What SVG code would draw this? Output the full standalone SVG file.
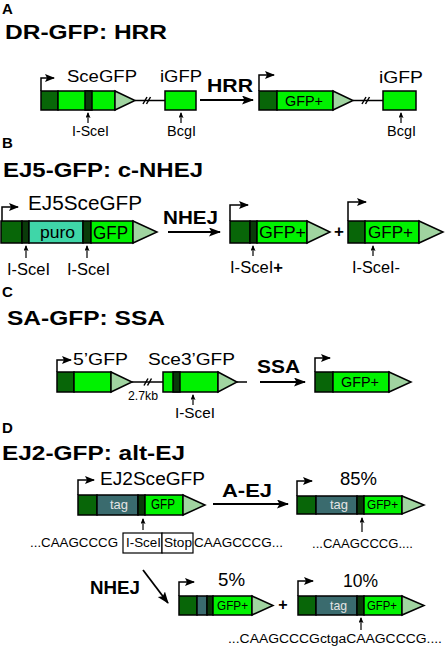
<svg xmlns="http://www.w3.org/2000/svg" width="445" height="649" viewBox="0 0 445 649">
<style>
text{font-family:"Liberation Sans",Arial,sans-serif;fill:#000}
.b{font-weight:bold}
.dk{fill:#086608;stroke:#000;stroke-width:1.5}
.bd{fill:#0a3a0a;stroke:#000;stroke-width:1.5}
.gr{fill:#00f200;stroke:#000;stroke-width:1.5}
.tr{fill:#a0d4a0;stroke:#000;stroke-width:1.5}
.pu{fill:#3fd6a8;stroke:#000;stroke-width:1.5}
.tg{fill:#3a6b6e;stroke:#000;stroke-width:1.5}
.ln{fill:none;stroke:#000;stroke-width:1.5}
.bx{fill:#fff;stroke:#000;stroke-width:1.2}
.pr{fill:none;stroke:#000;stroke-width:1.5;marker-end:url(#pa)}
.sm{fill:none;stroke:#000;stroke-width:1.2;marker-end:url(#sa)}
.big{fill:none;stroke:#000;stroke-width:1.8;marker-end:url(#ba)}
.tt{fill:#e4e4e4}
</style>
<defs>
<marker id="pa" markerUnits="userSpaceOnUse" markerWidth="10" markerHeight="10" refX="9" refY="4" orient="auto"><path d="M0,0 L10,4 L0,8 L2,4 z" fill="#000"/></marker>
<marker id="sa" markerUnits="userSpaceOnUse" markerWidth="6" markerHeight="6" refX="5" refY="2.5" orient="auto"><path d="M0,0 L6,2.5 L0,5 L1.2,2.5 z" fill="#000"/></marker>
<marker id="ba" markerUnits="userSpaceOnUse" markerWidth="12" markerHeight="10" refX="11" refY="4.5" orient="auto"><path d="M0,0 L12,4.5 L0,9 L2.5,4.5 z" fill="#000"/></marker>
</defs>

<!-- Panel labels and titles -->
<g id="titles">
<text class="b" x="2" y="14" font-size="15">A</text>
<text class="b" x="5" y="39" font-size="20" textLength="162" lengthAdjust="spacingAndGlyphs">DR-GFP: HRR</text>
<text class="b" x="2" y="148" font-size="15">B</text>
<text class="b" x="3" y="177" font-size="20" textLength="200" lengthAdjust="spacingAndGlyphs">EJ5-GFP: c-NHEJ</text>
<text class="b" x="2" y="297" font-size="15">C</text>
<text class="b" x="7" y="325" font-size="20" textLength="158" lengthAdjust="spacingAndGlyphs">SA-GFP: SSA</text>
<text class="b" x="2" y="433" font-size="15">D</text>
<text class="b" x="2" y="460" font-size="20" textLength="183" lengthAdjust="spacingAndGlyphs">EJ2-GFP: alt-EJ</text>
</g>

<!-- Panel A -->
<g id="dr-gfp">
<rect class="dk" x="41" y="91" width="17" height="19"/>
<rect class="gr" x="58" y="91" width="57" height="19"/>
<rect class="bd" x="85" y="91" width="7" height="19"/>
<polygon class="tr" points="115,91 135,100.5 115,110"/>
<line class="ln" x1="135" y1="100.5" x2="165" y2="100.5"/>
<path class="ln" d="M143,104 L147,97 M146.5,104 L150.5,97"/>
<rect class="gr" x="165" y="91" width="31" height="19"/>
<text x="67" y="82" font-size="16" textLength="70" lengthAdjust="spacingAndGlyphs">SceGFP</text>
<text x="160" y="82" font-size="16" textLength="42" lengthAdjust="spacingAndGlyphs">iGFP</text>
<text x="72" y="136" font-size="14" textLength="37" lengthAdjust="spacingAndGlyphs">I-SceI</text>
<text x="167" y="136" font-size="14" textLength="29" lengthAdjust="spacingAndGlyphs">BcgI</text>
</g>
<g id="hrr-product">
<rect class="dk" x="259" y="91" width="18" height="19"/>
<rect class="gr" x="277" y="91" width="56" height="19"/>
<polygon class="tr" points="333,91 353,100.5 333,110"/>
<line class="ln" x1="353" y1="100.5" x2="383" y2="100.5"/>
<path class="ln" d="M362,104 L366,97 M365.5,104 L369.5,97"/>
<rect class="gr" x="383" y="91" width="33" height="19"/>
<text x="285" y="106" font-size="14" textLength="38" lengthAdjust="spacingAndGlyphs">GFP+</text>
<text x="379" y="83" font-size="16" textLength="44" lengthAdjust="spacingAndGlyphs">iGFP</text>
<text x="387" y="136" font-size="14" textLength="29" lengthAdjust="spacingAndGlyphs">BcgI</text>
</g>
<text class="b" x="207" y="92" font-size="19" textLength="46" lengthAdjust="spacingAndGlyphs">HRR</text>

<!-- Panel B -->
<g id="ej5-gfp">
<rect class="dk" x="1" y="221" width="21" height="22"/>
<rect class="bd" x="22" y="221" width="7" height="22"/>
<rect class="pu" x="29" y="221" width="54" height="22"/>
<rect class="bd" x="83" y="221" width="8" height="22"/>
<rect class="gr" x="91" y="221" width="42" height="22"/>
<polygon class="tr" points="133,221 157,232 133,243"/>
<text x="28" y="210" font-size="20" textLength="114" lengthAdjust="spacingAndGlyphs">EJ5SceGFP</text>
<text x="40" y="238" font-size="16" textLength="35" lengthAdjust="spacingAndGlyphs">puro</text>
<text x="93" y="239" font-size="18" textLength="35" lengthAdjust="spacingAndGlyphs">GFP</text>
<text x="7" y="275" font-size="16" textLength="43" lengthAdjust="spacingAndGlyphs">I-SceI</text>
<text x="67" y="275" font-size="16" textLength="43" lengthAdjust="spacingAndGlyphs">I-SceI</text>
</g>
<text class="b" x="163" y="224" font-size="19" textLength="55" lengthAdjust="spacingAndGlyphs">NHEJ</text>
<g id="nhej-product-plus">
<rect class="dk" x="230" y="221" width="20" height="22"/>
<rect class="bd" x="250" y="221" width="7" height="22"/>
<rect class="gr" x="257" y="221" width="50" height="22"/>
<polygon class="tr" points="307,221 330,232 307,243"/>
<text x="259" y="238" font-size="17" textLength="47" lengthAdjust="spacingAndGlyphs">GFP+</text>
<text x="230" y="273" font-size="16" textLength="53" lengthAdjust="spacingAndGlyphs">I-SceI<tspan class="b">+</tspan></text>
</g>
<text class="b" x="339" y="237" font-size="17" text-anchor="middle">+</text>
<g id="nhej-product-minus">
<rect class="dk" x="348" y="221" width="17" height="22"/>
<rect class="gr" x="365" y="221" width="54" height="22"/>
<polygon class="tr" points="419,221 443,232 419,243"/>
<text x="368" y="238" font-size="17" textLength="45" lengthAdjust="spacingAndGlyphs">GFP+</text>
<text x="352" y="273" font-size="16" textLength="48" lengthAdjust="spacingAndGlyphs">I-SceI-</text>
</g>

<!-- Panel C -->
<g id="sa-gfp">
<rect class="dk" x="57" y="372" width="17" height="20"/>
<rect class="gr" x="74" y="372" width="37" height="20"/>
<polygon class="tr" points="111,372 132,382 111,392"/>
<line class="ln" x1="132" y1="382" x2="163" y2="382"/>
<path class="ln" d="M144,385.5 L148,378.5 M147.5,385.5 L151.5,378.5"/>
<rect class="gr" x="163" y="372" width="55" height="20"/>
<rect class="bd" x="173" y="372" width="7" height="20"/>
<polygon class="tr" points="218,372 237,382 218,392"/>
<line class="ln" x1="237" y1="382" x2="247" y2="382"/>
<text x="73" y="365" font-size="16" textLength="55" lengthAdjust="spacingAndGlyphs">5’GFP</text>
<text x="148" y="365" font-size="16" textLength="87" lengthAdjust="spacingAndGlyphs">Sce3’GFP</text>
<text x="128" y="400" font-size="12" textLength="30" lengthAdjust="spacingAndGlyphs">2.7kb</text>
<text x="175" y="418" font-size="15" textLength="40" lengthAdjust="spacingAndGlyphs">I-SceI</text>
</g>
<text class="b" x="257" y="373" font-size="18" textLength="43" lengthAdjust="spacingAndGlyphs">SSA</text>
<g id="ssa-product">
<rect class="dk" x="315" y="372" width="18" height="20"/>
<rect class="gr" x="333" y="372" width="56" height="20"/>
<polygon class="tr" points="389,372 411,382 389,392"/>
<text x="341" y="387" font-size="14" textLength="38" lengthAdjust="spacingAndGlyphs">GFP+</text>
</g>

<!-- Panel D -->
<g id="ej2-gfp">
<rect class="dk" x="78" y="495" width="19" height="20"/>
<rect class="tg" x="97" y="495" width="41" height="20"/>
<rect class="bd" x="138" y="495" width="7" height="20"/>
<rect class="gr" x="145" y="495" width="38" height="20"/>
<polygon class="tr" points="183,495 205,505 183,515"/>
<text x="100" y="485" font-size="18" textLength="105" lengthAdjust="spacingAndGlyphs">EJ2SceGFP</text>
<text class="tt" x="110" y="509" font-size="13" textLength="18" lengthAdjust="spacingAndGlyphs">tag</text>
<text x="151" y="509" font-size="14" textLength="24" lengthAdjust="spacingAndGlyphs">GFP</text>
<rect class="bx" x="123" y="533" width="39" height="20"/>
<rect class="bx" x="162" y="533" width="31" height="20"/>
<text x="30" y="547" font-size="12.5" textLength="88" lengthAdjust="spacingAndGlyphs">...CAAGCCCG</text>
<text x="126" y="547" font-size="12.5" textLength="35" lengthAdjust="spacingAndGlyphs">I-SceI</text>
<text x="164" y="547" font-size="12.5" textLength="28" lengthAdjust="spacingAndGlyphs">Stop</text>
<text x="194" y="547" font-size="12.5" textLength="89" lengthAdjust="spacingAndGlyphs">CAAGCCCG...</text>
</g>
<text class="b" x="222" y="497" font-size="18" textLength="50" lengthAdjust="spacingAndGlyphs">A-EJ</text>
<g id="aej-product">
<rect class="dk" x="297" y="496" width="19" height="18"/>
<rect class="tg" x="316" y="496" width="41" height="18"/>
<rect class="bd" x="357" y="496" width="7" height="18"/>
<rect class="gr" x="364" y="496" width="38" height="18"/>
<polygon class="tr" points="402,496 424,505 402,514"/>
<text x="340" y="485" font-size="18" textLength="37" lengthAdjust="spacingAndGlyphs">85%</text>
<text class="tt" x="330" y="509" font-size="13" textLength="18" lengthAdjust="spacingAndGlyphs">tag</text>
<text x="367" y="509" font-size="13" textLength="31" lengthAdjust="spacingAndGlyphs">GFP+</text>
<text x="312" y="548" font-size="12.5" textLength="101" lengthAdjust="spacingAndGlyphs">...CAAGCCCG....</text>
</g>
<text class="b" x="90" y="594" font-size="18" textLength="50" lengthAdjust="spacingAndGlyphs">NHEJ</text>
<g id="nhej-5pct">
<rect class="dk" x="179" y="596" width="18" height="19"/>
<rect class="tg" x="197" y="596" width="10" height="19"/>
<rect class="bd" x="207" y="596" width="6" height="19"/>
<rect class="gr" x="213" y="596" width="39" height="19"/>
<polygon class="tr" points="252,596 273,605.5 252,615"/>
<text x="218" y="586" font-size="18" textLength="27" lengthAdjust="spacingAndGlyphs">5%</text>
<text x="217" y="610" font-size="13" textLength="31" lengthAdjust="spacingAndGlyphs">GFP+</text>
</g>
<text class="b" x="283" y="610" font-size="16" text-anchor="middle">+</text>
<g id="nhej-10pct">
<rect class="dk" x="298" y="596" width="18" height="19"/>
<rect class="tg" x="316" y="596" width="41" height="19"/>
<rect class="bd" x="357" y="596" width="7" height="19"/>
<rect class="gr" x="364" y="596" width="38" height="19"/>
<polygon class="tr" points="402,596 424,605.5 402,615"/>
<text x="343" y="587" font-size="18" textLength="35" lengthAdjust="spacingAndGlyphs">10%</text>
<text class="tt" x="330" y="610" font-size="13" textLength="17" lengthAdjust="spacingAndGlyphs">tag</text>
<text x="367" y="610" font-size="13" textLength="30" lengthAdjust="spacingAndGlyphs">GFP+</text>
<text x="228" y="643" font-size="12.5" textLength="214" lengthAdjust="spacingAndGlyphs">...CAAGCCCGctgaCAAGCCCG....</text>
</g>

<!-- Connectors -->
<g id="connectors">
<path class="pr" d="M41,91 V78 H54"/>
<path class="pr" d="M259,91 V75 H274"/>
<path class="pr" d="M2,221 V207 H18"/>
<path class="pr" d="M230,221 V205 H248"/>
<path class="pr" d="M348,221 V202 H366"/>
<path class="pr" d="M57,372 V360 H71"/>
<path class="pr" d="M315,372 V358 H330"/>
<path class="pr" d="M78,495 V480 H94"/>
<path class="pr" d="M297,496 V481 H312"/>
<path class="pr" d="M179,596 V582 H194"/>
<path class="pr" d="M298,596 V581 H313"/>
<line class="big" x1="200" y1="100" x2="253" y2="100"/>
<line class="big" x1="168" y1="232" x2="220" y2="232"/>
<line class="big" x1="260" y1="382" x2="305" y2="382"/>
<line class="big" x1="213" y1="504" x2="288" y2="504"/>
<line class="big" x1="143" y1="570" x2="168" y2="603"/>
<line class="sm" x1="88" y1="123" x2="88" y2="113"/>
<line class="sm" x1="181" y1="123" x2="181" y2="113"/>
<line class="sm" x1="401" y1="123" x2="401" y2="113"/>
<line class="sm" x1="26" y1="258" x2="26" y2="246"/>
<line class="sm" x1="87" y1="258" x2="87" y2="246"/>
<line class="sm" x1="253" y1="256" x2="253" y2="246"/>
<line class="sm" x1="373" y1="256" x2="373" y2="246"/>
<line class="sm" x1="193" y1="405" x2="193" y2="395"/>
<line class="sm" x1="143" y1="530" x2="143" y2="519"/>
<line class="sm" x1="362" y1="532" x2="362" y2="518"/>
<line class="sm" x1="361" y1="630" x2="361" y2="618"/>
</g>
</svg>
